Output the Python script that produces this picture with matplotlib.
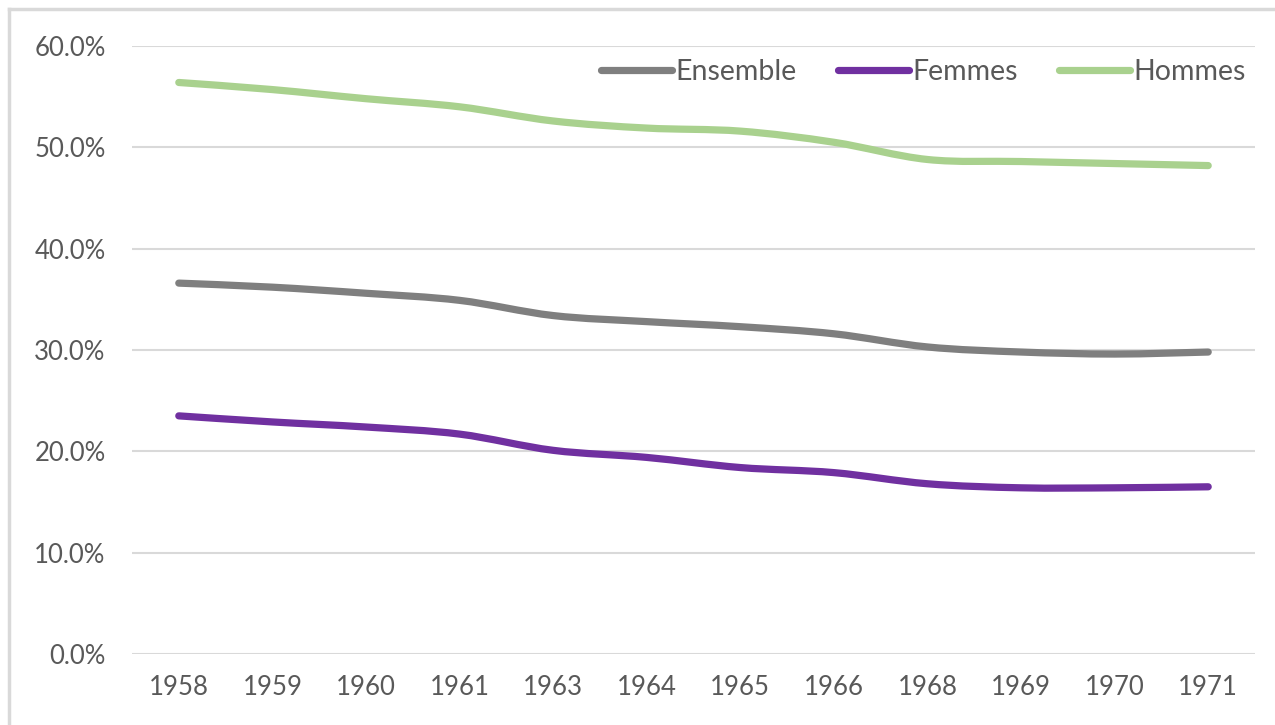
import matplotlib
matplotlib.use("Agg")
import matplotlib.pyplot as plt
import numpy as np
from matplotlib.path import Path
from matplotlib.patches import PathPatch
from matplotlib.lines import Line2D
from matplotlib.ticker import PercentFormatter

years = ["1958", "1959", "1960", "1961", "1963", "1964", "1965", "1966",
         "1968", "1969", "1970", "1971"]
ensemble = [36.6, 36.2, 35.6, 34.9, 33.4, 32.8, 32.3, 31.6, 30.3, 29.8, 29.6, 29.8]
femmes = [23.5, 22.9, 22.4, 21.7, 20.1, 19.4, 18.4, 17.9, 16.8, 16.4, 16.4, 16.5]
hommes = [56.4, 55.7, 54.8, 54.0, 52.6, 51.9, 51.6, 50.5, 48.8, 48.6, 48.4, 48.2]

series = [("Ensemble", ensemble, "#7F7F7F"),
          ("Femmes", femmes, "#7030A0"),
          ("Hommes", hommes, "#A9D18E")]

plt.rcParams['font.family'] = ['Lato', 'DejaVu Sans']
W, H = 1275, 725
fig = plt.figure(figsize=(W / 100, H / 100), dpi=100)
ax = fig.add_axes([132 / W, (H - 654) / H, (1255 - 132) / W, (654 - 46) / H])

def smooth_path(x, y):
    x = np.asarray(x, float)
    y = np.asarray(y, float)
    n = len(x)
    verts = [(x[0], y[0])]
    codes = [Path.MOVETO]
    for i in range(n - 1):
        p0 = np.array([x[max(i - 1, 0)], y[max(i - 1, 0)]])
        p1 = np.array([x[i], y[i]])
        p2 = np.array([x[i + 1], y[i + 1]])
        p3 = np.array([x[min(i + 2, n - 1)], y[min(i + 2, n - 1)]])
        c1 = p1 + (p2 - p0) / 6.0
        c2 = p2 - (p3 - p1) / 6.0
        verts += [tuple(c1), tuple(c2), tuple(p2)]
        codes += [Path.CURVE4] * 3
    return Path(verts, codes)

xs = np.arange(len(years))
handles = []
for name, vals, col in series:
    p = smooth_path(xs, vals)
    patch = PathPatch(p, facecolor="none", edgecolor=col, lw=5.2,
                      capstyle="round", joinstyle="round", zorder=3)
    ax.add_patch(patch)
    handles.append(Line2D([], [], color=col, lw=5.2, solid_capstyle="round", label=name))

ax.set_xlim(-0.5, len(years) - 0.5)
ax.set_ylim(0, 60)
ax.set_xticks(xs)
ax.set_xticklabels(years)
ax.set_yticks(np.arange(0, 61, 10))
ax.yaxis.set_major_formatter(PercentFormatter(decimals=1))
ax.grid(axis="y", color="#D9D9D9", lw=1.5, zorder=0)
ax.set_axisbelow(True)
for s in ax.spines.values():
    s.set_visible(False)
ax.tick_params(axis="both", length=0, labelsize=18.5, colors="#595959")
ax.tick_params(axis="y", pad=19)
ax.tick_params(axis="x", pad=15)

leg = fig.legend(handles=handles, loc="center right", ncol=3, frameon=False,
                 prop={"size": 20.5}, handlelength=2.5, handletextpad=0.12,
                 columnspacing=1.45, labelcolor="#595959",
                 bbox_to_anchor=(1246 / W, (H - 72) / H), borderaxespad=0,
                 borderpad=0)

# chart border (left and top visible)
fig.add_artist(Line2D([9 / W, 9 / W], [0, (H - 9) / H], color="#D9D9D9", lw=2.5,
                      transform=fig.transFigure))
fig.add_artist(Line2D([9 / W, 1], [(H - 9) / H, (H - 9) / H], color="#D9D9D9", lw=2.5,
                      transform=fig.transFigure))

fig.savefig("out.png", dpi=100)
